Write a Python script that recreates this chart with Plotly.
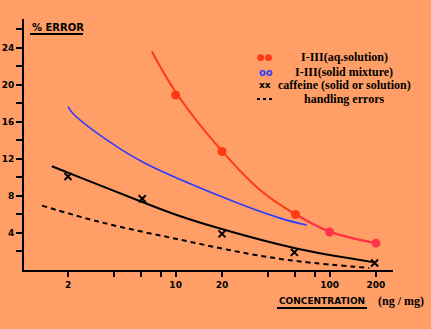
import plotly.graph_objects as go

# ---- data ----
aq_x = [10, 20, 60, 100, 200]
aq_y = [18.9, 12.8, 6.0, 4.1, 2.9]
aq_curve_x = [7.0, 10.3, 20.1, 35.3, 60.2, 99.5, 199]
aq_curve_y = [23.6, 18.9, 12.8, 8.64, 6.0, 4.15, 2.9]

solid_x = [2.05, 6.1, 20, 59]
solid_y = [16.9, 11.6, 7.7, 4.7]
solid_curve_x = [2.0, 2.17, 3.57, 6.2, 20.1, 47.6, 71]
solid_curve_y = [17.65, 16.85, 14.05, 11.6, 7.88, 5.6, 4.85]

caf_x = [2, 6.07, 20, 59, 196]
caf_y = [10.1, 7.7, 3.9, 1.9, 0.75]
caf_curve_x = [1.57, 3.23, 6.07, 10.16, 19.4, 58.9, 191]
caf_curve_y = [11.2, 9.13, 7.34, 5.94, 4.48, 2.38, 0.85]

hand_x = [1.356, 3.23, 10.16, 30.4, 64.2, 181]
hand_y = [6.95, 5.18, 3.35, 1.73, 0.92, 0.22]

x_tickvals = [2, 4, 6, 8, 10, 20, 40, 60, 80, 100, 200]
x_ticktext = ["2", "", "", "", "10", "20", "", "", "", "100", "200"]
y_tickvals = [2, 4, 6, 8, 10, 12, 14, 16, 18, 20, 22, 24, 26]
y_ticktext = ["", "4", "", "8", "", "12", "", "16", "", "20", "", "24", ""]

legend_labels = ["I-III(aq.solution)", "I-III(solid mixture)",
                 "caffeine (solid or solution)", "handling errors"]

BG = "#FF9E66"
RED = "#FF3A12"
RED2 = "#FF3448"
BLUE = "#2B3BFF"

W, H = 431, 329
L, R, T, B = 24, 38, 19, 59


def px(xp):
    return (xp - L) / (W - L - R)


def py(yp):
    return (H - B - yp) / (H - B - T)


fig = go.Figure()

# curves
fig.add_trace(go.Scatter(x=aq_curve_x, y=aq_curve_y, mode="lines",
                         line=dict(color=RED, width=2, shape="spline", smoothing=1)))
fig.add_trace(go.Scatter(x=aq_curve_x[4:], y=aq_curve_y[4:], mode="lines",
                         line=dict(color=RED2, width=2, shape="spline", smoothing=1)))
fig.add_trace(go.Scatter(x=solid_curve_x, y=solid_curve_y, mode="lines",
                         line=dict(color=BLUE, width=1.6, shape="spline", smoothing=1)))
fig.add_trace(go.Scatter(x=caf_curve_x, y=caf_curve_y, mode="lines",
                         line=dict(color="black", width=2, shape="spline", smoothing=1)))
fig.add_trace(go.Scatter(x=hand_x, y=hand_y, mode="lines",
                         line=dict(color="black", width=2, dash="5px,4px", shape="spline", smoothing=1)))

# points
fig.add_trace(go.Scatter(x=aq_x[:3], y=aq_y[:3], mode="markers",
                         marker=dict(color=RED, size=9, symbol="circle")))
fig.add_trace(go.Scatter(x=aq_x[3:], y=aq_y[3:], mode="markers",
                         marker=dict(color=RED2, size=9, symbol="circle")))
fig.add_trace(go.Scatter(x=solid_x, y=solid_y, mode="markers",
                         marker=dict(color="rgba(0,0,0,0)", size=8, symbol="circle-open",
                                     line=dict(color=BLUE, width=2))))
fig.add_trace(go.Scatter(x=caf_x, y=caf_y, mode="markers",
                         marker=dict(color="black", size=7, symbol="x-thin",
                                     line=dict(color="black", width=2))))

tickfont = dict(family="DejaVu Sans", size=9, color="black", weight="bold")
fig.update_layout(
    width=W, height=H,
    margin=dict(l=L, r=R, t=T, b=B),
    paper_bgcolor=BG, plot_bgcolor=BG,
    showlegend=False,
    xaxis=dict(type="log", range=[0.0153, 2.4116], showgrid=False, zeroline=False,
               automargin=False,
               showline=True, linecolor="black", linewidth=2,
               ticks="outside", ticklen=5, tickwidth=2, tickcolor="black",
               tickvals=x_tickvals, ticktext=x_ticktext, tickfont=tickfont),
    yaxis=dict(range=[0, 27.1], showgrid=False, zeroline=False,
               automargin=False,
               showline=True, linecolor="black", linewidth=2,
               ticks="outside", ticklen=6, tickwidth=2, tickcolor="black",
               tickvals=y_tickvals, ticktext=y_ticktext, tickfont=tickfont),
)

ann = []
ann.append(dict(x=px(30), y=py(28), xref="paper", yref="paper", xanchor="left", yanchor="middle",
                text="<b>% ERROR</b>", showarrow=False,
                font=dict(family="DejaVu Sans", size=10, color="black")))
ann.append(dict(x=px(277), y=py(301), xref="paper", yref="paper", xanchor="left", yanchor="middle",
                text="<b>CONCENTRATION</b>", showarrow=False,
                font=dict(family="DejaVu Sans", size=9, color="black")))
ann.append(dict(x=px(401), y=py(301), xref="paper", yref="paper", xanchor="center", yanchor="middle",
                text="<b>(ng / mg)</b>", showarrow=False,
                font=dict(family="Liberation Serif", size=12, color="black")))

leg_y = [57, 72, 85, 99]
for lab, yy in zip(legend_labels, leg_y):
    ann.append(dict(x=px(344), y=py(yy), xref="paper", yref="paper", xanchor="center", yanchor="middle",
                    text="<b>" + lab + "</b>", showarrow=False,
                    font=dict(family="Liberation Serif", size=12, color="black")))
ann.append(dict(x=px(265), y=py(57), xref="paper", yref="paper", xanchor="center", yanchor="middle",
                text="●●", showarrow=False, font=dict(family="DejaVu Sans", size=9, color=RED)))
ann.append(dict(x=px(266), y=py(72), xref="paper", yref="paper", xanchor="center", yanchor="middle",
                text="<b>oo</b>", showarrow=False, font=dict(family="DejaVu Sans", size=10, color=BLUE)))
ann.append(dict(x=px(265), y=py(85), xref="paper", yref="paper", xanchor="center", yanchor="middle",
                text="<b>xx</b>", showarrow=False, font=dict(family="DejaVu Sans", size=9, color="black")))
fig.update_layout(annotations=ann)

shapes = [
    dict(type="line", xref="paper", yref="paper", x0=px(30), x1=px(83), y0=py(34), y1=py(34),
         line=dict(color="black", width=2)),
    dict(type="line", xref="paper", yref="paper", x0=px(277), x1=px(367), y0=py(308), y1=py(308),
         line=dict(color="black", width=2)),
    dict(type="line", xref="paper", yref="paper", x0=px(257), x1=px(273), y0=py(99), y1=py(99),
         line=dict(color="black", width=2, dash="3px,3px")),
]
fig.update_layout(shapes=shapes)

fig.write_html("out.html")
